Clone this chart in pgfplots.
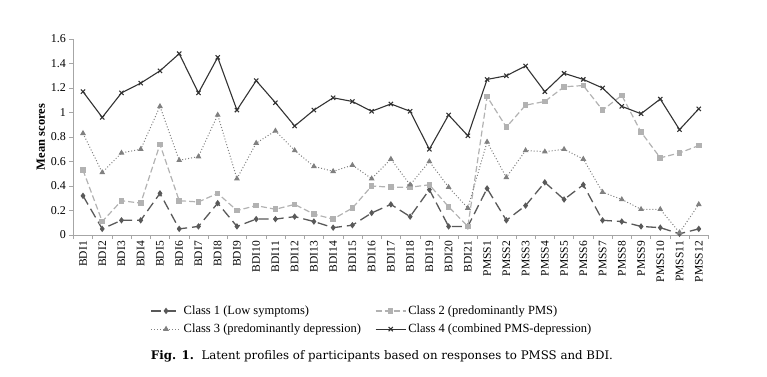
\documentclass[border=0pt]{standalone}
\usepackage{fontspec}
\setmainfont{Liberation Serif}
\newfontfamily\capfont{DejaVu Serif}
\usepackage{pgfplots}
\pgfplotsset{compat=1.18}
\begin{document}
\begin{tikzpicture}
\path[use as bounding box] (-83pt,-141pt) rectangle (684pt,235pt);
\begin{axis}[
  at={(0pt,0pt)}, anchor=origin,
  scale only axis, width=635pt, height=196pt,
  xmin=-0.5, xmax=32.5, ymin=0, ymax=1.6,
  axis lines*=left,
  axis line style={draw=gray!70, -},
  every tick/.style={gray!70},
  tick align=outside,
  xtick={0,...,32},
  xticklabels={BDI1,BDI2,BDI3,BDI4,BDI5,BDI6,BDI7,BDI8,BDI9,BDI10,BDI11,BDI12,BDI13,BDI14,BDI15,BDI16,BDI17,BDI18,BDI19,BDI20,BDI21,PMSS1,PMSS2,PMSS3,PMSS4,PMSS5,PMSS6,PMSS7,PMSS8,PMSS9,PMSS10,PMSS11,PMSS12},
  major x tick style={draw=none},
  minor xtick={-0.5,0.5,...,32.5},
  minor tick length=4pt,
  major tick length=4pt,
  x tick label style={rotate=90, anchor=east, font=\fontsize{11.5}{13}\selectfont, inner sep=2pt},
  ytick={0,0.2,...,1.6},
  y tick label style={font=\fontsize{12}{14}\selectfont},
  yticklabel style={/pgf/number format/fixed},
  /pgf/number format/assume math mode=true,
  ylabel={\textbf{Mean scores}},
  ylabel style={font=\fontsize{12.5}{14}\selectfont, yshift=-1pt},
  legend columns=2,
  legend style={at={(0.47,-0.34)}, anchor=north, draw=none, font=\fontsize{12.5}{14}\selectfont,
    /tikz/every even column/.append style={column sep=12pt}, row sep=4pt},
  legend cell align=left,
  legend image code/.code={\draw[mark repeat=2,mark phase=2] plot coordinates {(0pt,0pt) (15pt,0pt) (30pt,0pt)};},
  clip=false,
]
\addplot[color=black!65, line width=1.3pt, dash pattern=on 10pt off 5pt, mark=diamond*, mark size=2.2pt, mark options={solid}] coordinates {
(0,0.32)(1,0.05)(2,0.12)(3,0.12)(4,0.34)(5,0.05)(6,0.07)(7,0.26)(8,0.07)(9,0.13)(10,0.13)(11,0.15)(12,0.11)(13,0.06)(14,0.08)(15,0.18)(16,0.25)(17,0.15)(18,0.37)(19,0.07)(20,0.07)(21,0.38)(22,0.12)(23,0.24)(24,0.43)(25,0.29)(26,0.41)(27,0.12)(28,0.11)(29,0.07)(30,0.06)(31,0.01)(32,0.05)};
\addlegendentry{Class 1 (Low symptoms)}
\addplot[color=black!30, line width=1.2pt, dash pattern=on 6pt off 3pt, mark=square*, mark size=2.2pt, mark options={solid}] coordinates {
(0,0.53)(1,0.11)(2,0.28)(3,0.26)(4,0.74)(5,0.28)(6,0.27)(7,0.34)(8,0.20)(9,0.24)(10,0.21)(11,0.25)(12,0.17)(13,0.13)(14,0.22)(15,0.40)(16,0.39)(17,0.39)(18,0.41)(19,0.23)(20,0.07)(21,1.13)(22,0.88)(23,1.06)(24,1.09)(25,1.21)(26,1.22)(27,1.02)(28,1.14)(29,0.84)(30,0.63)(31,0.67)(32,0.73)};
\addlegendentry{Class 2 (predominantly PMS)}
\addplot[color=black!50, line width=1.0pt, dotted, mark=triangle*, mark size=2.4pt, mark options={solid}] coordinates {
(0,0.83)(1,0.51)(2,0.67)(3,0.70)(4,1.05)(5,0.61)(6,0.64)(7,0.98)(8,0.46)(9,0.75)(10,0.85)(11,0.69)(12,0.56)(13,0.52)(14,0.57)(15,0.46)(16,0.62)(17,0.41)(18,0.60)(19,0.39)(20,0.22)(21,0.76)(22,0.47)(23,0.69)(24,0.68)(25,0.70)(26,0.62)(27,0.35)(28,0.29)(29,0.21)(30,0.21)(31,0.02)(32,0.25)};
\addlegendentry{Class 3 (predominantly depression)}
\addplot[color=black!80, line width=1.1pt, mark=x, mark size=3pt] coordinates {
(0,1.17)(1,0.96)(2,1.16)(3,1.24)(4,1.34)(5,1.48)(6,1.16)(7,1.45)(8,1.02)(9,1.26)(10,1.08)(11,0.89)(12,1.02)(13,1.12)(14,1.09)(15,1.01)(16,1.07)(17,1.01)(18,0.70)(19,0.98)(20,0.81)(21,1.27)(22,1.30)(23,1.38)(24,1.17)(25,1.32)(26,1.27)(27,1.20)(28,1.05)(29,0.99)(30,1.11)(31,0.86)(32,1.03)};
\addlegendentry{Class 4 (combined PMS-depression)}
\end{axis}
\node[font=\capfont\fontsize{11.8}{13}\selectfont] at (299pt,-121pt) {\textbf{Fig. 1.}\ \ Latent profiles of participants based on responses to PMSS and BDI.};
\end{tikzpicture}
\end{document}
